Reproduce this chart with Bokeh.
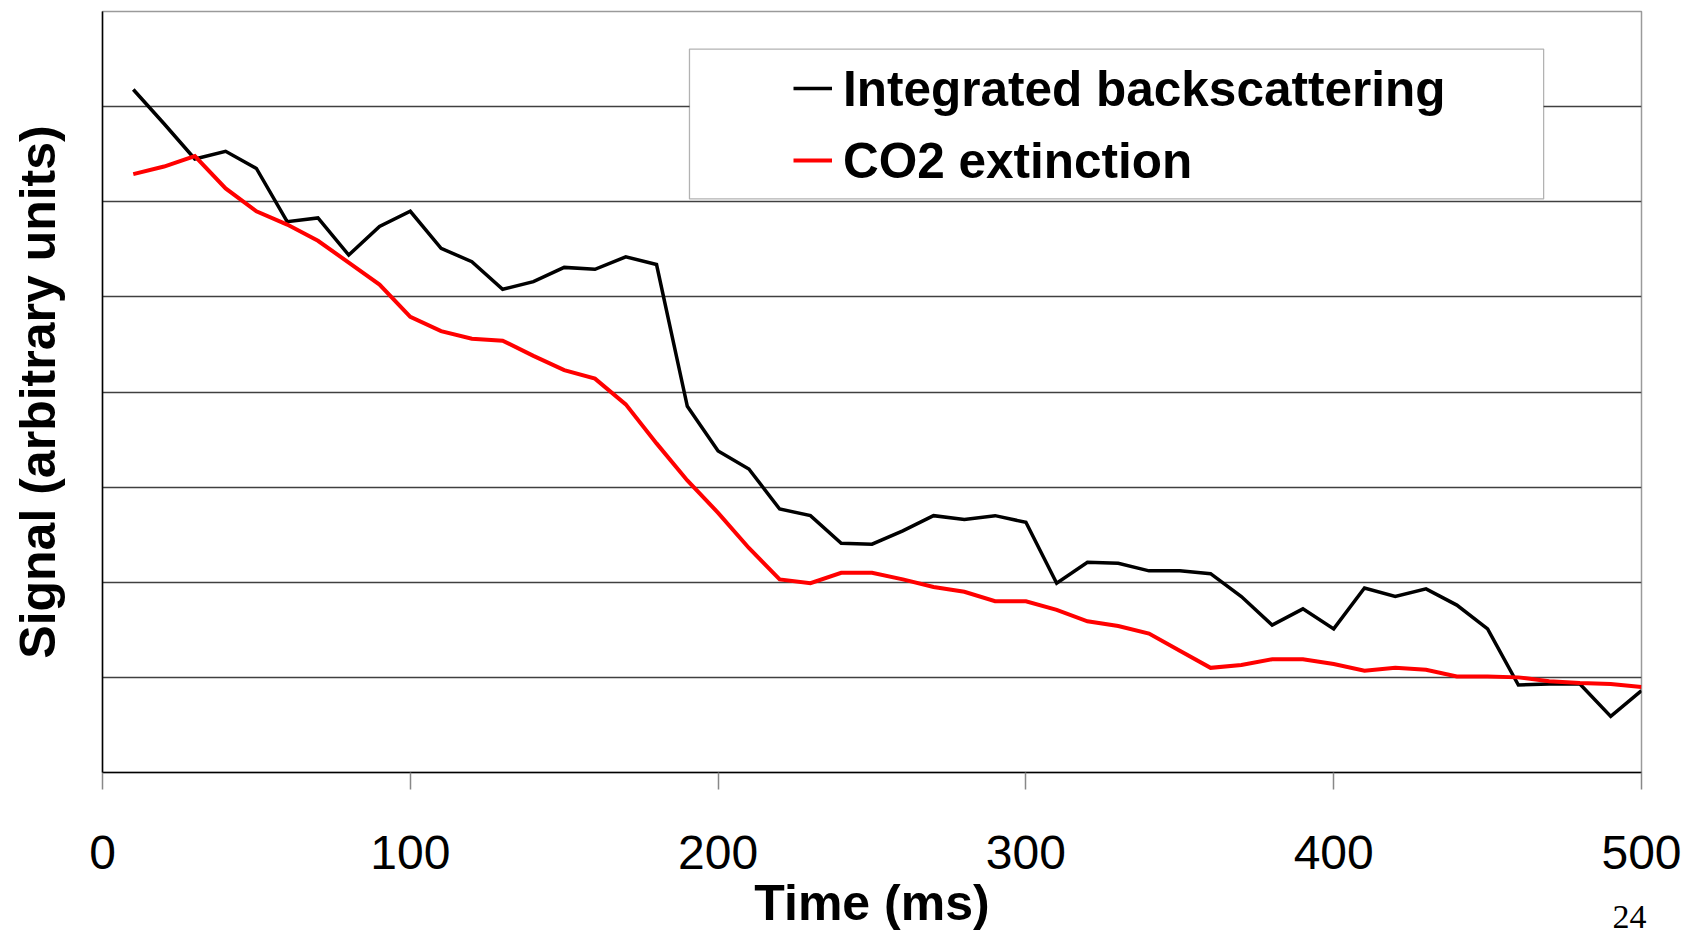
from bokeh.plotting import figure
from bokeh.models import (Range1d, FixedTicker, Legend, LegendItem, BoxAnnotation,
                          Label)
from bokeh.embed import file_html
from bokeh.resources import INLINE

# ---- data ----
time_ms = [10, 20, 30, 40, 50, 60, 70, 80, 90, 100,
           110, 120, 130, 140, 150, 160, 170, 180, 190, 200,
           210, 220, 230, 240, 250, 260, 270, 280, 290, 300,
           310, 320, 330, 340, 350, 360, 370, 380, 390, 400,
           410, 420, 430, 440, 450, 460, 470, 480, 490, 500]

backscatter = [7.18, 6.82, 6.45, 6.53, 6.35, 5.79, 5.83, 5.44, 5.74, 5.90,
               5.51, 5.37, 5.08, 5.16, 5.31, 5.29, 5.42, 5.34, 3.85, 3.38,
               3.19, 2.77, 2.70, 2.41, 2.40, 2.54, 2.70, 2.66, 2.70, 2.63,
               1.99, 2.21, 2.20, 2.12, 2.12, 2.09, 1.85, 1.55, 1.72, 1.51,
               1.94, 1.85, 1.93, 1.76, 1.51, 0.92, 0.93, 0.93, 0.59, 0.86]

co2_extinction = [6.29, 6.37, 6.48, 6.14, 5.90, 5.76, 5.59, 5.36, 5.13, 4.79,
                  4.64, 4.56, 4.54, 4.38, 4.23, 4.14, 3.87, 3.46, 3.07, 2.73,
                  2.36, 2.03, 1.99, 2.10, 2.10, 2.03, 1.95, 1.90, 1.80, 1.80,
                  1.71, 1.59, 1.54, 1.46, 1.28, 1.10, 1.13, 1.19, 1.19, 1.14,
                  1.07, 1.10, 1.08, 1.01, 1.01, 1.00, 0.96, 0.94, 0.93, 0.90]

series_names = ["Integrated backscattering", "CO2 extinction"]
x_ticks = [0, 100, 200, 300, 400, 500]
y_grid = [0, 1, 2, 3, 4, 5, 6, 7, 8]
page_number = "24"

FONT = "Liberation Sans"

p = figure(width=1690, height=933, output_backend="svg", toolbar_location=None,
           x_range=Range1d(0, 500), y_range=Range1d(0, 8),
           min_border_left=102, min_border_right=49,
           min_border_top=11, min_border_bottom=160)

p.background_fill_color = "white"
p.border_fill_color = "white"
p.outline_line_color = "#9a9a9a"
p.outline_line_width = 1.5

# grid
p.xgrid.visible = False
p.ygrid.ticker = FixedTicker(ticks=y_grid)
p.ygrid.grid_line_color = "#404040"
p.ygrid.grid_line_width = 1.3

# x axis
xa = p.xaxis[0]
xa.ticker = FixedTicker(ticks=x_ticks)
xa.axis_line_color = "black"
xa.axis_line_width = 1.5
xa.major_tick_in = 0
xa.major_tick_out = 17
xa.major_tick_line_color = "#888888"
xa.major_tick_line_width = 1.5
xa.minor_tick_line_color = None
xa.major_label_text_font = FONT
xa.major_label_text_font_size = "48px"
xa.major_label_text_color = "black"
xa.major_label_standoff = 46
xa.axis_label = "Time (ms)"
xa.axis_label_text_font = FONT
xa.axis_label_text_font_style = "bold"
xa.axis_label_text_font_size = "50px"
xa.axis_label_text_color = "black"
xa.axis_label_standoff = 3

# y axis
ya = p.yaxis[0]
ya.ticker = FixedTicker(ticks=y_grid)
ya.major_label_overrides = {t: "" for t in y_grid}
ya.axis_line_color = "black"
ya.axis_line_width = 1.5
ya.major_tick_in = 0
ya.major_tick_out = 0
ya.major_tick_line_color = None
ya.minor_tick_line_color = None
ya.major_label_standoff = 0
ya.axis_label = "Signal (arbitrary units)"
ya.axis_label_text_font = FONT
ya.axis_label_text_font_style = "bold"
ya.axis_label_text_font_size = "50px"
ya.axis_label_text_color = "black"
ya.axis_label_standoff = 37

# lines
r_back = p.line(time_ms, backscatter, line_color="black", line_width=3.5,
                line_join="miter")
r_co2 = p.line(time_ms, co2_extinction, line_color="#ff0000", line_width=4,
               line_join="miter")

# legend frame
frame = BoxAnnotation(left=190.7, right=468.2, bottom=6.03, top=7.605,
                      fill_color="white", fill_alpha=1.0,
                      line_color="black", line_width=1.3)
p.add_layout(frame)

legend = Legend(items=[LegendItem(label=series_names[0], renderers=[r_back]),
                       LegendItem(label=series_names[1], renderers=[r_co2])],
                location=(691, 576), orientation="vertical",
                padding=0, spacing=0, margin=0,
                glyph_width=39, glyph_height=72, label_height=72,
                label_standoff=11,
                label_text_font=FONT, label_text_font_style="bold",
                label_text_font_size="49.5px", label_text_color="black",
                border_line_alpha=0, background_fill_alpha=0)
p.add_layout(legend)

# page number, hung from the right-hand panel (not clipped to the frame)
p.add_layout(Label(x=-12, y=-144, x_units="screen", y_units="screen",
                   text=page_number, text_font="Liberation Serif",
                   text_font_size="34px", text_align="center",
                   text_baseline="alphabetic", text_color="black"), "right")

open("out.html", "w").write(file_html(p, INLINE))
